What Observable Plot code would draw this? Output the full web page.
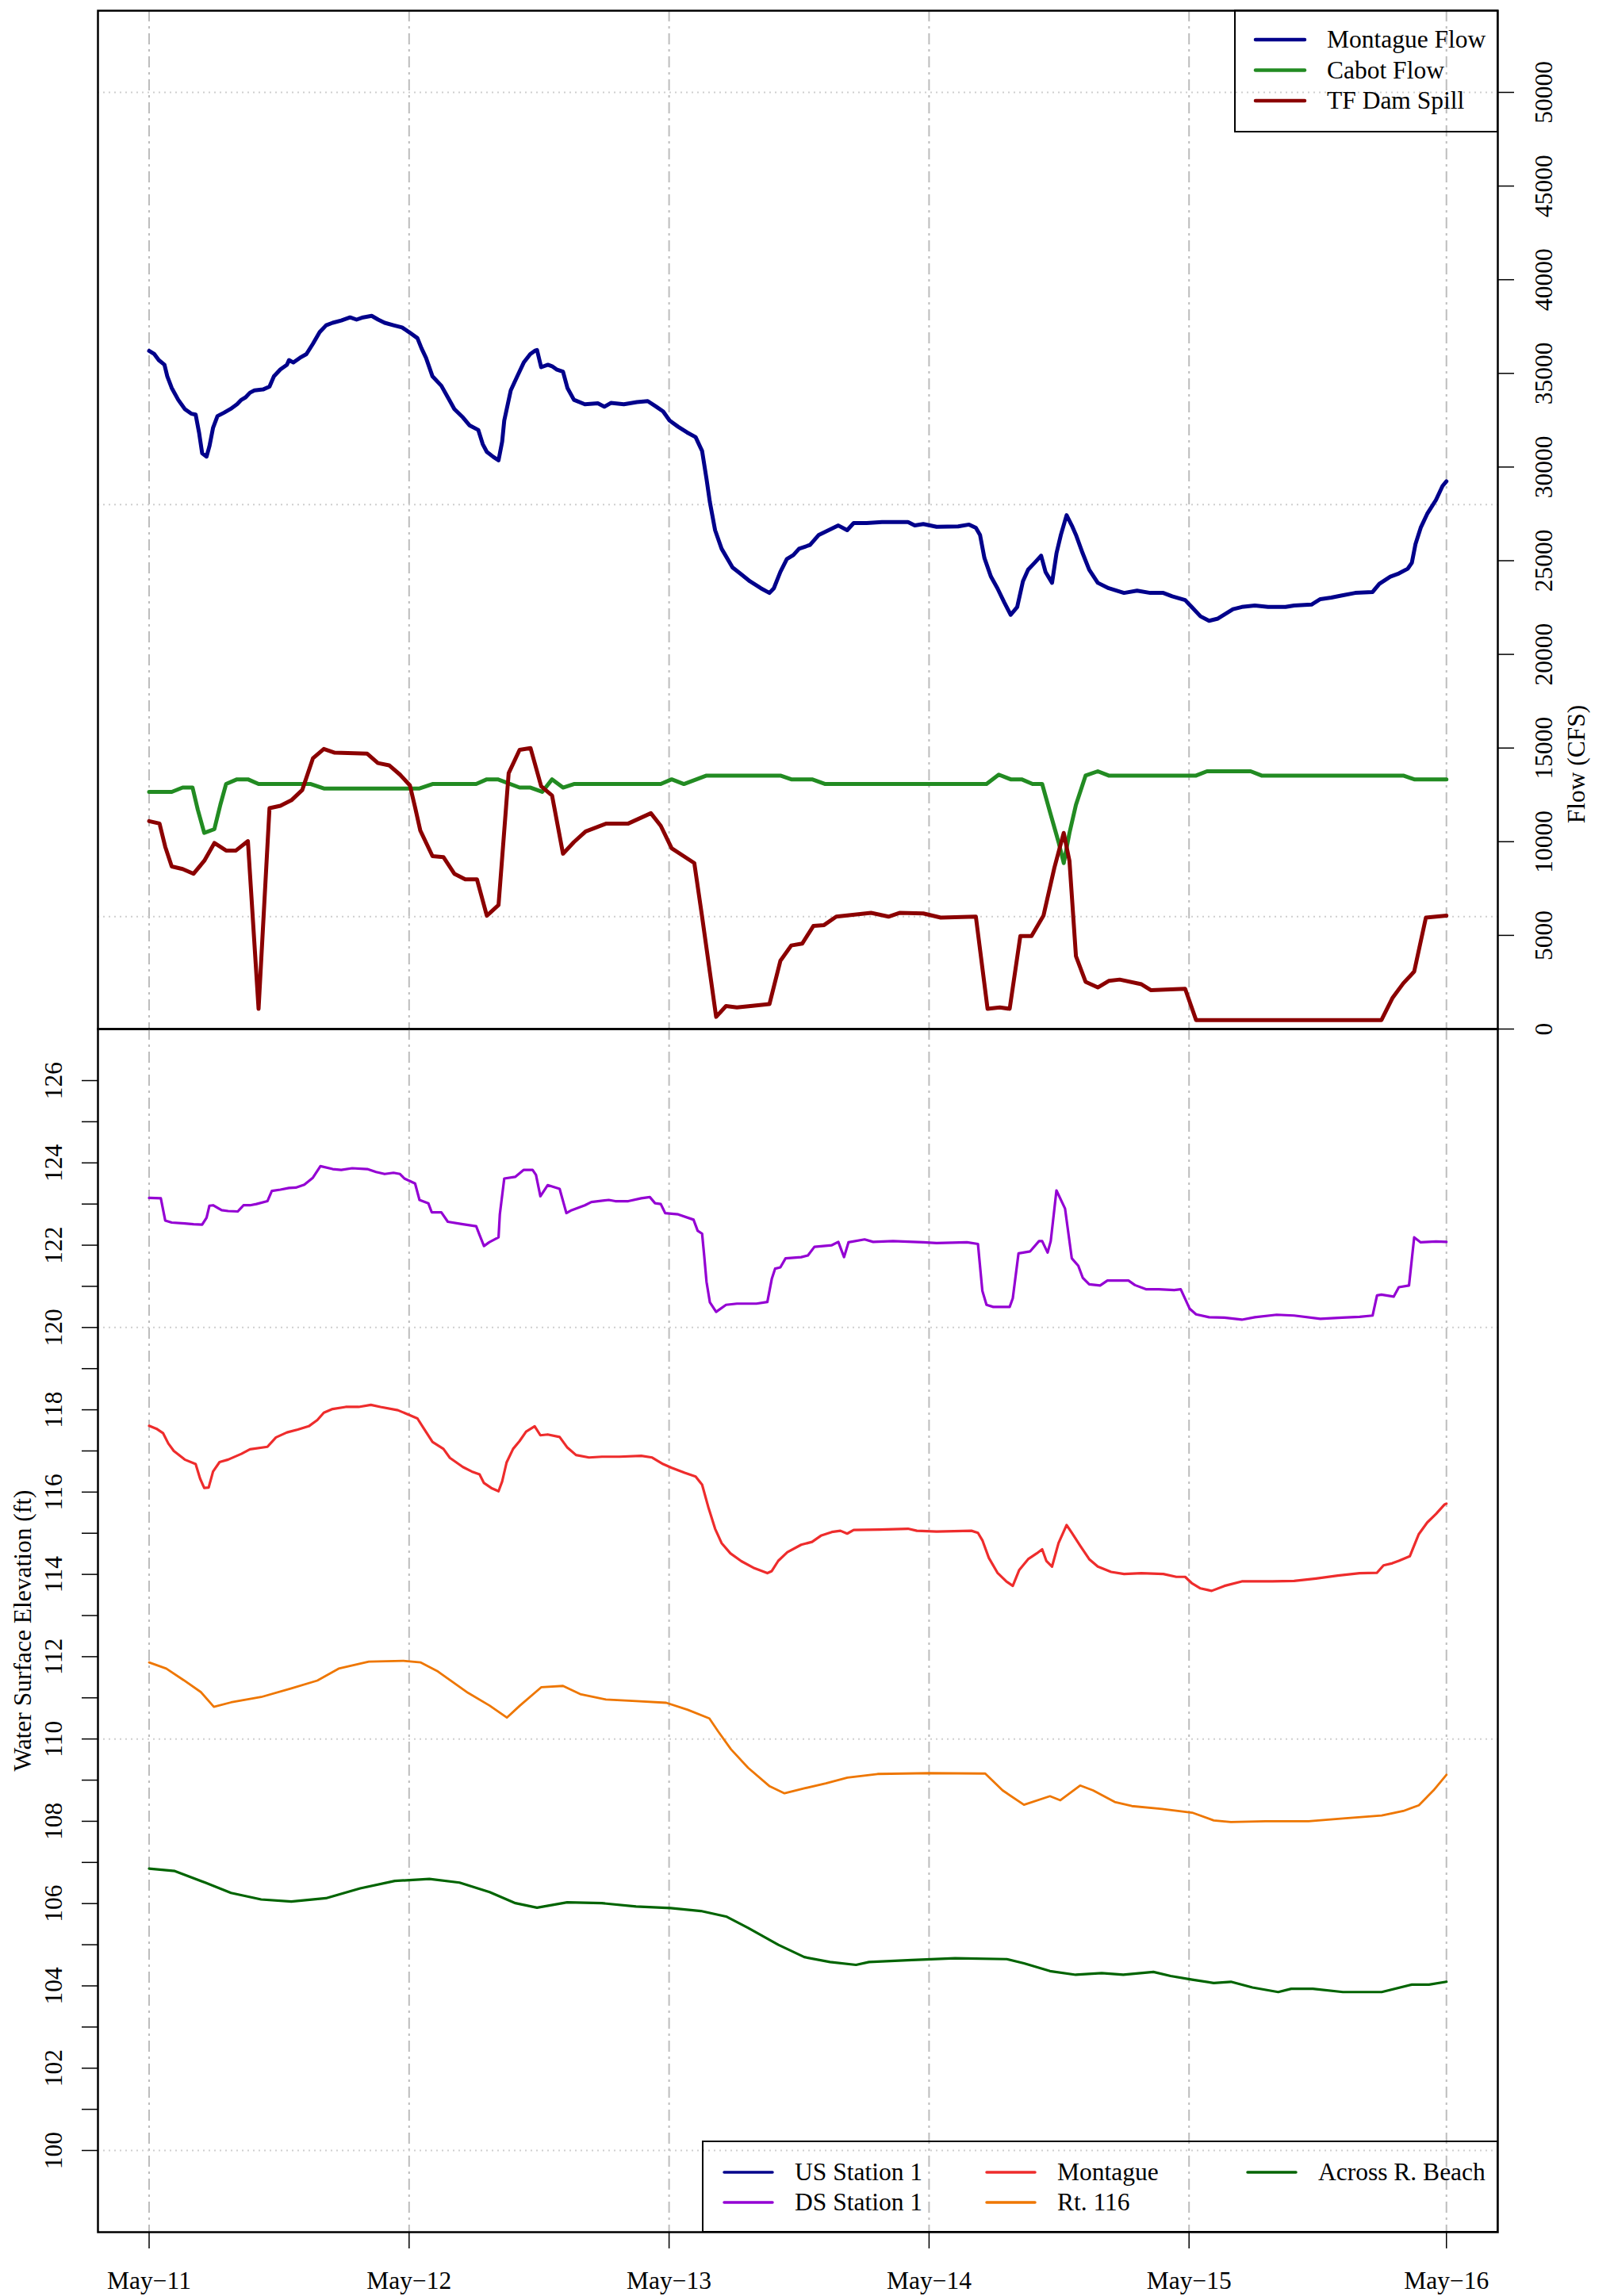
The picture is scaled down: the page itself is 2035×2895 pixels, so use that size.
<!DOCTYPE html>
<html><head><meta charset="utf-8">
<script src="https://cdn.jsdelivr.net/npm/d3@7"></script>
<script src="https://cdn.jsdelivr.net/npm/@observablehq/plot@0.6"></script>
<style>
html,body{margin:0;padding:0;background:#fff;overflow:hidden}
#chart{position:relative;width:2035px;height:2895px;background:#fff;font-family:"Liberation Serif","Times New Roman",serif;}
#chart svg{position:absolute;left:0;overflow:visible}
</style></head><body><div id="chart"></div>
<script>
// ---- axis / category data ----
const dayTicks = [0, 1, 2, 3, 4, 4.99];           // last tick sits on the final (23:45) sample
const dayLabels = ["May\u221211", "May\u221212", "May\u221213", "May\u221214", "May\u221215", "May\u221216"];
const flowTicks = [0, 5000, 10000, 15000, 20000, 25000, 30000, 35000, 40000, 45000, 50000];
const flowGrid = [6000, 28000, 50000];
const elevTicks = d3.range(100, 127);
const elevLabels = [100, 102, 104, 106, 108, 110, 112, 114, 116, 118, 120, 122, 124, 126];
const elevGrid = [100, 110, 120];
const flowSeries = ["Montague Flow", "Cabot Flow", "TF Dam Spill"];
const flowColors = ["#00008B", "#228B22", "#8B0000"];
const elevSeries = ["US Station 1", "DS Station 1", "Montague", "Rt. 116", "Across R. Beach"];
const elevColors = ["#00008B", "#9400D3", "#EE2C2C", "#EE7600", "#006400"];

// ---- series: [days since May-11 00:00, value] ----
const montagueFlow = [[0,36200],[0.02,36030],[0.037,35710],[0.059,35460],[0.07,34840],[0.087,34220],[0.112,33590],[0.137,33100],[0.162,32850],[0.179,32800],[0.192,31850],[0.204,30740],[0.221,30560],[0.232,31110],[0.246,32100],[0.263,32720],[0.288,32900],[0.313,33100],[0.338,33350],[0.355,33590],[0.371,33720],[0.388,33970],[0.405,34090],[0.438,34140],[0.463,34290],[0.48,34840],[0.505,35210],[0.53,35460],[0.538,35710],[0.555,35580],[0.58,35830],[0.605,36030],[0.63,36580],[0.656,37200],[0.681,37570],[0.706,37700],[0.739,37820],[0.773,37990],[0.798,37870],[0.823,37990],[0.856,38070],[0.881,37870],[0.906,37700],[0.94,37570],[0.973,37450],[1.0,37200],[1.032,36880],[1.048,36330],[1.065,35830],[1.09,34840],[1.124,34340],[1.149,33720],[1.174,33100],[1.207,32650],[1.232,32230],[1.266,31980],[1.283,31230],[1.299,30810],[1.324,30540],[1.344,30360],[1.358,31360],[1.366,32480],[1.391,34090],[1.416,34840],[1.441,35580],[1.466,36030],[1.483,36200],[1.492,36250],[1.508,35330],[1.534,35460],[1.55,35380],[1.567,35210],[1.592,35090],[1.609,34220],[1.634,33590],[1.676,33350],[1.726,33400],[1.751,33220],[1.776,33420],[1.826,33350],[1.876,33470],[1.918,33520],[1.951,33220],[1.977,32970],[2.002,32480],[2.035,32150],[2.069,31850],[2.102,31600],[2.127,30860],[2.144,29370],[2.157,28120],[2.177,26630],[2.202,25640],[2.244,24640],[2.278,24270],[2.311,23900],[2.353,23530],[2.386,23280],[2.403,23530],[2.428,24400],[2.453,25090],[2.478,25300],[2.5,25640],[2.542,25840],[2.576,26380],[2.626,26710],[2.651,26880],[2.685,26630],[2.71,27010],[2.76,27010],[2.819,27060],[2.919,27060],[2.945,26880],[2.978,26960],[3.029,26810],[3.112,26830],[3.154,26930],[3.18,26760],[3.196,26380],[3.213,25140],[3.238,24150],[3.263,23530],[3.289,22780],[3.314,22110],[3.339,22530],[3.361,23900],[3.381,24520],[3.406,24890],[3.431,25270],[3.448,24400],[3.473,23820],[3.49,25390],[3.507,26380],[3.529,27430],[3.549,26880],[3.565,26380],[3.591,25390],[3.616,24520],[3.649,23820],[3.691,23530],[3.75,23280],[3.8,23400],[3.851,23280],[3.901,23280],[3.935,23100],[3.985,22900],[4.01,22530],[4.044,22030],[4.077,21790],[4.111,21910],[4.169,22410],[4.203,22530],[4.253,22610],[4.304,22530],[4.371,22530],[4.404,22610],[4.471,22660],[4.505,22950],[4.547,23030],[4.589,23150],[4.639,23280],[4.706,23330],[4.732,23770],[4.774,24150],[4.807,24320],[4.841,24570],[4.857,24890],[4.871,25890],[4.891,26760],[4.916,27500],[4.95,28250],[4.975,28990],[4.99,29240]];
const cabotFlow = [[0,12660],[0.087,12660],[0.129,12890],[0.167,12890],[0.187,11720],[0.212,10470],[0.251,10670],[0.274,11970],[0.296,13080],[0.338,13330],[0.38,13330],[0.421,13080],[0.622,13080],[0.672,12840],[1.04,12840],[1.09,13080],[1.258,13080],[1.299,13330],[1.341,13330],[1.425,12890],[1.467,12890],[1.512,12660],[1.55,13330],[1.592,12890],[1.634,13080],[1.968,13080],[2.01,13330],[2.057,13080],[2.144,13530],[2.428,13530],[2.47,13330],[2.55,13330],[2.601,13080],[3.221,13080],[3.268,13580],[3.314,13330],[3.356,13330],[3.398,13080],[3.435,13080],[3.465,11590],[3.498,9980],[3.518,8860],[3.54,10470],[3.565,11970],[3.602,13530],[3.649,13760],[3.691,13530],[4.027,13530],[4.069,13760],[4.237,13760],[4.279,13530],[4.824,13530],[4.866,13330],[4.99,13330]];
const tfDamSpill = [[0,11100],[0.04,10970],[0.062,9730],[0.087,8680],[0.129,8540],[0.171,8290],[0.212,8980],[0.251,9930],[0.296,9530],[0.334,9530],[0.38,10030],[0.421,1080],[0.463,11790],[0.505,11920],[0.547,12210],[0.589,12760],[0.63,14450],[0.672,14950],[0.714,14750],[0.839,14700],[0.88,14200],[0.923,14080],[0.965,13580],[1.003,13010],[1.023,11840],[1.043,10600],[1.09,9230],[1.132,9180],[1.174,8290],[1.216,7990],[1.261,7990],[1.299,6050],[1.344,6620],[1.383,13660],[1.425,14900],[1.467,15000],[1.508,12960],[1.55,12460],[1.592,9360],[1.634,9980],[1.679,10550],[1.759,10970],[1.843,10970],[1.93,11520],[1.968,10850],[2.01,9650],[2.097,8860],[2.127,6000],[2.181,650],[2.219,1230],[2.261,1150],[2.386,1330],[2.428,3640],[2.47,4460],[2.512,4560],[2.555,5500],[2.596,5550],[2.643,6000],[2.777,6200],[2.844,6000],[2.886,6200],[2.978,6170],[3.045,5950],[3.18,6000],[3.225,1080],[3.272,1150],[3.31,1080],[3.351,4960],[3.394,4960],[3.44,6050],[3.482,8610],[3.518,10470],[3.54,8980],[3.565,3890],[3.602,2520],[3.649,2220],[3.691,2570],[3.733,2640],[3.817,2390],[3.854,2070],[3.985,2150],[4.027,480],[4.74,480],[4.782,1650],[4.824,2440],[4.866,3070],[4.911,5950],[4.99,6050]];
const dsStation1 = [[0,123.15],[0.045,123.14],[0.062,122.6],[0.087,122.55],[0.137,122.53],[0.171,122.51],[0.204,122.5],[0.221,122.67],[0.232,122.96],[0.246,122.97],[0.279,122.85],[0.304,122.83],[0.341,122.82],[0.363,122.97],[0.388,122.97],[0.413,123.0],[0.455,123.07],[0.472,123.32],[0.505,123.35],[0.538,123.39],[0.564,123.4],[0.597,123.47],[0.63,123.64],[0.659,123.92],[0.706,123.85],[0.739,123.83],[0.781,123.87],[0.839,123.85],[0.873,123.78],[0.906,123.73],[0.94,123.76],[0.965,123.73],[0.982,123.62],[1.023,123.5],[1.04,123.1],[1.074,123.02],[1.087,122.8],[1.124,122.8],[1.149,122.57],[1.207,122.51],[1.258,122.46],[1.271,122.25],[1.288,121.98],[1.308,122.07],[1.344,122.19],[1.349,122.75],[1.366,123.62],[1.408,123.66],[1.441,123.83],[1.475,123.83],[1.488,123.71],[1.505,123.19],[1.533,123.46],[1.579,123.37],[1.605,122.78],[1.625,122.85],[1.676,122.97],[1.701,123.05],[1.768,123.1],[1.793,123.07],[1.843,123.07],[1.893,123.14],[1.926,123.17],[1.946,123.02],[1.968,123.0],[1.985,122.78],[2.035,122.75],[2.094,122.62],[2.11,122.35],[2.127,122.28],[2.135,121.75],[2.144,121.11],[2.157,120.61],[2.181,120.38],[2.219,120.55],[2.261,120.58],[2.336,120.58],[2.378,120.62],[2.395,121.18],[2.408,121.43],[2.428,121.46],[2.448,121.68],[2.508,121.71],[2.534,121.75],[2.559,121.96],[2.626,122.0],[2.651,122.08],[2.673,121.71],[2.69,122.07],[2.752,122.14],[2.785,122.08],[2.861,122.1],[2.978,122.07],[3.029,122.05],[3.146,122.07],[3.188,122.03],[3.205,120.89],[3.221,120.55],[3.247,120.5],[3.31,120.5],[3.322,120.71],[3.344,121.8],[3.389,121.85],[3.423,122.1],[3.435,122.1],[3.456,121.82],[3.468,122.1],[3.49,123.33],[3.523,122.89],[3.549,121.68],[3.574,121.5],[3.591,121.21],[3.616,121.05],[3.658,121.02],[3.686,121.14],[3.767,121.14],[3.792,121.03],[3.834,120.93],[3.884,120.93],[3.943,120.91],[3.968,120.93],[4.002,120.46],[4.027,120.32],[4.077,120.25],[4.136,120.24],[4.203,120.19],[4.253,120.25],[4.337,120.31],[4.404,120.29],[4.505,120.21],[4.589,120.24],[4.656,120.26],[4.706,120.29],[4.723,120.78],[4.74,120.8],[4.787,120.75],[4.807,120.98],[4.846,121.02],[4.866,122.19],[4.891,122.07],[4.95,122.09],[4.99,122.08]];
const montagueElev = [[0,117.61],[0.028,117.54],[0.054,117.43],[0.074,117.18],[0.095,117.0],[0.137,116.79],[0.179,116.68],[0.196,116.33],[0.212,116.1],[0.229,116.11],[0.246,116.5],[0.271,116.73],[0.304,116.79],[0.355,116.93],[0.388,117.04],[0.455,117.1],[0.488,117.33],[0.53,117.45],[0.572,117.52],[0.614,117.6],[0.647,117.75],[0.672,117.93],[0.706,118.02],[0.756,118.07],[0.806,118.07],[0.853,118.12],[0.89,118.07],[0.957,117.99],[0.998,117.88],[1.032,117.79],[1.057,117.54],[1.09,117.22],[1.132,117.05],[1.157,116.83],[1.207,116.61],[1.241,116.5],[1.271,116.43],[1.288,116.22],[1.316,116.1],[1.344,116.02],[1.358,116.26],[1.375,116.72],[1.4,117.05],[1.425,117.24],[1.45,117.47],[1.483,117.6],[1.505,117.38],[1.533,117.4],[1.579,117.34],[1.609,117.08],[1.642,116.9],[1.692,116.84],[1.742,116.86],[1.809,116.86],[1.893,116.88],[1.935,116.84],[1.977,116.68],[2.01,116.59],[2.06,116.47],[2.102,116.38],[2.127,116.18],[2.152,115.61],[2.177,115.11],[2.202,114.76],[2.236,114.51],[2.278,114.32],[2.328,114.15],[2.378,114.03],[2.395,114.08],[2.42,114.33],[2.455,114.54],[2.508,114.72],[2.55,114.79],[2.584,114.94],[2.626,115.03],[2.659,115.06],[2.685,114.99],[2.71,115.08],[2.81,115.09],[2.919,115.11],[2.953,115.06],[3.029,115.04],[3.163,115.06],[3.188,115.01],[3.205,114.83],[3.23,114.4],[3.263,114.04],[3.297,113.83],[3.322,113.72],[3.347,114.11],[3.381,114.37],[3.414,114.51],[3.435,114.61],[3.451,114.33],[3.473,114.19],[3.498,114.76],[3.529,115.2],[3.549,115.01],[3.582,114.69],[3.616,114.37],[3.649,114.19],[3.7,114.06],[3.75,114.01],[3.817,114.03],[3.901,114.01],[3.951,113.94],[3.985,113.94],[4.01,113.79],[4.044,113.66],[4.087,113.6],[4.136,113.72],[4.203,113.83],[4.32,113.83],[4.404,113.84],[4.488,113.9],[4.572,113.97],[4.656,114.03],[4.723,114.04],[4.748,114.22],[4.782,114.27],[4.807,114.33],[4.849,114.44],[4.883,114.97],[4.916,115.26],[4.95,115.47],[4.983,115.7],[4.99,115.72]];
const rt116 = [[0,111.86],[0.066,111.71],[0.133,111.43],[0.199,111.14],[0.249,110.78],[0.315,110.89],[0.431,111.02],[0.547,111.23],[0.647,111.42],[0.729,111.71],[0.845,111.88],[0.978,111.9],[1.045,111.86],[1.111,111.64],[1.227,111.12],[1.31,110.81],[1.376,110.52],[1.426,110.81],[1.509,111.26],[1.592,111.29],[1.658,111.09],[1.757,110.96],[1.873,110.92],[1.989,110.88],[2.072,110.71],[2.155,110.5],[2.188,110.19],[2.238,109.75],[2.304,109.3],[2.387,108.85],[2.444,108.68],[2.52,108.8],[2.603,108.92],[2.686,109.06],[2.802,109.15],[3.001,109.17],[3.216,109.16],[3.283,108.75],[3.365,108.4],[3.465,108.61],[3.505,108.51],[3.581,108.87],[3.631,108.75],[3.714,108.47],[3.78,108.37],[3.896,108.3],[4.012,108.21],[4.095,108.02],[4.161,107.98],[4.294,108.0],[4.46,108.0],[4.592,108.07],[4.741,108.14],[4.824,108.25],[4.884,108.39],[4.94,108.75],[4.99,109.13]];
const acrossRBeach = [[0,106.85],[0.099,106.79],[0.216,106.51],[0.315,106.26],[0.431,106.1],[0.547,106.05],[0.68,106.13],[0.812,106.37],[0.945,106.55],[1.078,106.6],[1.194,106.51],[1.31,106.28],[1.409,106.01],[1.492,105.9],[1.608,106.03],[1.741,106.01],[1.873,105.93],[2.006,105.89],[2.122,105.82],[2.222,105.68],[2.304,105.41],[2.42,105.0],[2.52,104.7],[2.619,104.58],[2.719,104.51],[2.769,104.58],[2.934,104.63],[3.1,104.67],[3.299,104.65],[3.365,104.55],[3.465,104.36],[3.564,104.27],[3.664,104.31],[3.747,104.27],[3.863,104.34],[3.929,104.24],[4.012,104.15],[4.095,104.07],[4.161,104.1],[4.244,103.96],[4.343,103.85],[4.393,103.93],[4.476,103.93],[4.592,103.85],[4.741,103.85],[4.857,104.03],[4.923,104.03],[4.99,104.1]];

// ---- drawing ----
const FONT = '"Liberation Serif","Times New Roman",serif';
const FS = 31.5;
const xDomain = [-0.1968, 5.1876];
const vGrid = {stroke: "#bdbdbd", strokeWidth: 2, strokeDasharray: "14,6,3,6"};
const hGrid = {stroke: "#cfcfcf", strokeWidth: 2, strokeDasharray: "2,5"};
const styleObj = {fontFamily: FONT, fontSize: FS + "px", color: "black", background: "transparent", overflow: "visible"};
const px = d => d[0], py = d => d[1];

const topPlot = Plot.plot({
  width: 2035, height: 1297,
  marginTop: 13, marginBottom: 0, marginLeft: 123, marginRight: 147,
  x: {domain: xDomain, axis: null},
  y: {domain: [0, 54360], axis: null},
  style: styleObj,
  marks: [
    Plot.ruleX(dayTicks, vGrid),
    Plot.ruleY(flowGrid, hGrid),
    Plot.line(montagueFlow, {x: px, y: py, stroke: flowColors[0], strokeWidth: 5}),
    Plot.line(cabotFlow, {x: px, y: py, stroke: flowColors[1], strokeWidth: 5}),
    Plot.line(tfDamSpill, {x: px, y: py, stroke: flowColors[2], strokeWidth: 5}),
    Plot.axisY({anchor: "right", ticks: flowTicks, tickSize: 20, tickFormat: () => "", label: null, strokeWidth: 1.5}),
    Plot.text(flowTicks, {y: d => d, text: d => String(d), frameAnchor: "right", dx: 58, rotate: -90, textAnchor: "middle", lineAnchor: "middle", fontSize: FS, fill: "black"}),
    Plot.text(["Flow (CFS)"], {text: d => d, frameAnchor: "right", dx: 99, dy: 308, rotate: -90, textAnchor: "middle", lineAnchor: "middle", fontSize: FS, fill: "black"}),
    Plot.frame({stroke: "black", strokeWidth: 2.5})
  ]
});
topPlot.style.top = "0px";

const botPlot = Plot.plot({
  width: 2035, height: 1598,
  marginTop: 0, marginBottom: 81, marginLeft: 123, marginRight: 147,
  x: {domain: xDomain, axis: null},
  y: {domain: [98.015, 127.253], axis: null},
  style: styleObj,
  marks: [
    Plot.ruleX(dayTicks, vGrid),
    Plot.ruleY(elevGrid, hGrid),
    Plot.line(dsStation1, {x: px, y: py, stroke: elevColors[1], strokeWidth: 3.2}),
    Plot.line(montagueElev, {x: px, y: py, stroke: elevColors[2], strokeWidth: 3.2}),
    Plot.line(rt116, {x: px, y: py, stroke: elevColors[3], strokeWidth: 2.8}),
    Plot.line(acrossRBeach, {x: px, y: py, stroke: elevColors[4], strokeWidth: 3.2}),
    Plot.axisY({anchor: "left", ticks: elevTicks, tickSize: 20, tickFormat: () => "", label: null, strokeWidth: 1.5}),
    Plot.text(elevLabels, {y: d => d, text: d => String(d), frameAnchor: "left", dx: -56, rotate: -90, textAnchor: "middle", lineAnchor: "middle", fontSize: FS, fill: "black"}),
    Plot.text(["Water Surface Elevation (ft)"], {text: d => d, frameAnchor: "left", dx: -95, rotate: -90, textAnchor: "middle", lineAnchor: "middle", fontSize: FS, fill: "black"}),
    Plot.axisX({anchor: "bottom", ticks: dayTicks, tickSize: 21, tickPadding: 28, tickFormat: d => dayLabels[dayTicks.indexOf(d)], label: null, fontSize: FS, strokeWidth: 1.5}),
    Plot.frame({stroke: "black", strokeWidth: 2.5})
  ]
});
botPlot.style.top = "1297px";

const chart = document.getElementById("chart");
chart.appendChild(topPlot);
chart.appendChild(botPlot);

// ---- legends (inside the panels, drawn as an overlay) ----
const ov = d3.select(chart).append("svg")
  .attr("width", 2035).attr("height", 2895)
  .style("top", "0px").style("pointer-events", "none")
  .attr("font-family", FONT).attr("font-size", FS);

const lg1 = ov.append("g");
lg1.append("rect").attr("x", 1557).attr("y", 13).attr("width", 331).attr("height", 153)
  .attr("fill", "none").attr("stroke", "black").attr("stroke-width", 2);
flowSeries.forEach((name, i) => {
  const y = 50 + i * 38.5;
  lg1.append("line").attr("x1", 1583).attr("x2", 1645).attr("y1", y).attr("y2", y)
    .attr("stroke", flowColors[i]).attr("stroke-width", 4.5).attr("stroke-linecap", "round");
  lg1.append("text").attr("x", 1673).attr("y", y).attr("dy", "0.33em").text(name);
});

const lg2 = ov.append("g");
lg2.append("rect").attr("x", 886).attr("y", 2700).attr("width", 1002).attr("height", 114)
  .attr("fill", "none").attr("stroke", "black").attr("stroke-width", 2);
const colX = [913, 1244, 1573];
elevSeries.forEach((name, i) => {
  const c = Math.floor(i / 2), r = i % 2;
  const x = colX[c], y = 2739 + r * 38;
  lg2.append("line").attr("x1", x).attr("x2", x + 61).attr("y1", y).attr("y2", y)
    .attr("stroke", elevColors[i]).attr("stroke-width", 3.5).attr("stroke-linecap", "round");
  lg2.append("text").attr("x", x + 89).attr("y", y).attr("dy", "0.33em").text(name);
});
</script>
</body></html>
